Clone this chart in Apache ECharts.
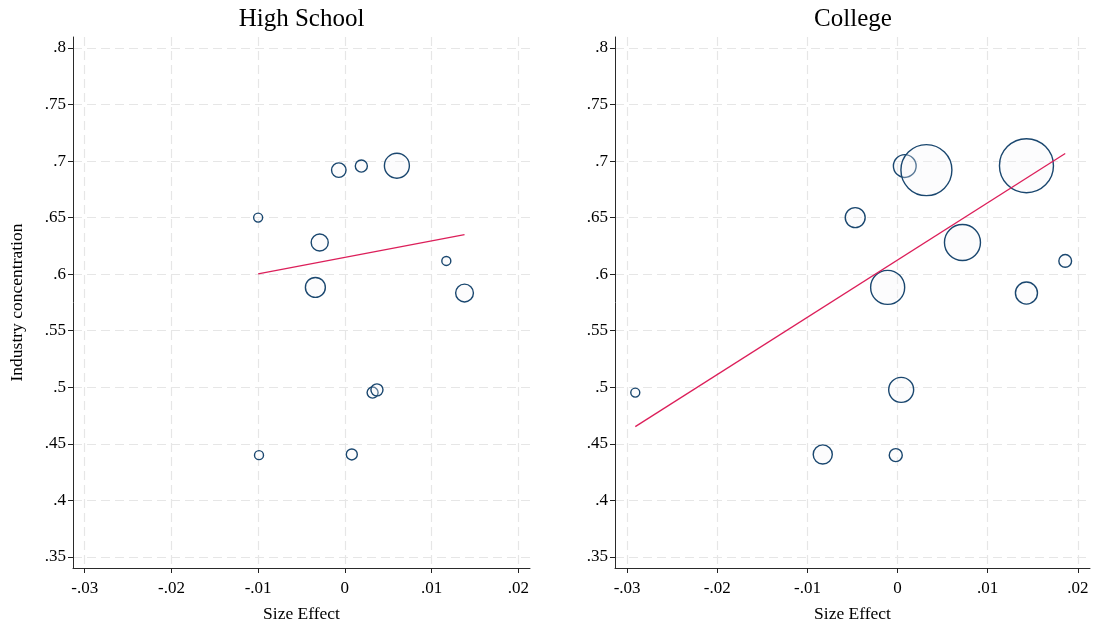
<!DOCTYPE html>
<html>
<head>
<meta charset="utf-8">
<title>Size effect and industry concentration</title>
<script src="https://cdn.jsdelivr.net/npm/echarts@6/dist/echarts.min.js"></script>
<style>
html, body { margin: 0; padding: 0; background: #fff; }
#chart { width: 1095px; height: 628px; }
</style>
</head>
<body>
<div id="chart"></div>
<script type="text/javascript">
// High School panel
var hsX = [-0.0100, -0.0007, 0.0019, 0.0060, -0.0029, -0.0034, 0.0117, 0.0138, 0.0032, 0.0037, -0.0099, 0.0008];
var hsY = [0.650, 0.692, 0.6956, 0.6959, 0.628, 0.5883, 0.6117, 0.5833, 0.4953, 0.4977, 0.440, 0.4406];
var hsW = [1.0, 2.6, 1.8, 7.7, 3.6, 4.9, 1.0, 3.9, 1.5, 1.8, 1.0, 1.5];
var hsFitX = [-0.0100, 0.0138];
var hsFitY = [0.6003, 0.6350];

// College panel
var colX = [-0.0047, 0.0008, 0.0032, 0.0143, 0.0072, -0.0011, 0.0186, 0.0143, -0.0291, 0.0004, -0.0083, -0.0002];
var colY = [0.650, 0.6956, 0.692, 0.6959, 0.628, 0.5883, 0.6117, 0.5833, 0.4953, 0.4977, 0.4406, 0.440];
var colW = [4.9, 6.4, 32.1, 36.0, 16.0, 14.3, 2.0, 6.0, 1.0, 7.7, 4.5, 2.1];
var colFitX = [-0.0291, 0.0186];
var colFitY = [0.4652, 0.7067];

// ticks
var xTicks = [-0.03, -0.02, -0.01, 0, 0.01, 0.02];
var yTicks = [0.35, 0.4, 0.45, 0.5, 0.55, 0.6, 0.65, 0.7, 0.75, 0.8];

var serif = 'Liberation Serif';
var navy = '#1a476f';

function fmt(v) {
	if (Math.abs(v) < 1e-9) return '0';
	return String(+v.toFixed(3)).replace('0.', '.');
}

function pts(xs, ys, ws) {
	return xs.map(function (x, i) { return ws ? [x, ys[i], ws[i]] : [x, ys[i]]; });
}

function xAxisOpt(idx) {
	return {
		type: 'value', gridIndex: idx,
		min: -0.03135, max: 0.02135,
		name: 'Size Effect', nameLocation: 'middle', nameGap: 37,
		nameTextStyle: { fontFamily: serif, fontSize: 17.5, color: '#000' },
		axisLine: { onZero: false, lineStyle: { color: '#2a2a2a', width: 1 } },
		axisTick: { show: true, length: 5, customValues: xTicks, lineStyle: { color: '#222' } },
		axisLabel: { customValues: xTicks, formatter: fmt, margin: 12, fontFamily: serif, fontSize: 17, color: '#000' },
		splitLine: { show: true, lineStyle: { color: '#e6e6e6', width: 1.2, type: [9, 5] } }
	};
}

function yAxisOpt(idx, name) {
	return {
		type: 'value', gridIndex: idx,
		min: 0.3402, max: 0.8097,
		name: name, nameLocation: 'middle', nameGap: 47,
		nameTextStyle: { fontFamily: serif, fontSize: 17.5, color: '#000' },
		axisLine: { show: true, onZero: false, lineStyle: { color: '#2a2a2a', width: 1 } },
		axisTick: { show: true, length: 5, customValues: yTicks, lineStyle: { color: '#222' } },
		axisLabel: { customValues: yTicks, formatter: fmt, margin: 7, fontFamily: serif, fontSize: 17, color: '#000' },
		splitLine: { show: true, lineStyle: { color: '#e6e6e6', width: 1.2, type: [9, 5] } }
	};
}

function bubbles(idx, data) {
	return {
		type: 'scatter', xAxisIndex: idx, yAxisIndex: idx,
		data: data,
		symbol: 'circle',
		symbolSize: function (v) { return 9 * Math.sqrt(v[2]); },
		itemStyle: { color: 'rgba(245,246,248,0.3)', borderColor: navy, borderWidth: 1.4, opacity: 1 },
		z: 2
	};
}

function fitLine(idx, data) {
	return {
		type: 'line', xAxisIndex: idx, yAxisIndex: idx,
		data: data,
		showSymbol: false, symbol: 'none',
		lineStyle: { color: '#dc1f5a', width: 1.3 },
		z: 3
	};
}

var chart = echarts.init(document.getElementById('chart'), null, { renderer: 'canvas' });
var option = {
	animation: false,
	backgroundColor: '#fff',
	textStyle: { fontFamily: serif },
	grid: [
		{ left: 73, right: 565, top: 37, bottom: 57 },
		{ left: 615, right: 5, top: 37, bottom: 57 }
	],
	xAxis: [xAxisOpt(0), xAxisOpt(1)],
	yAxis: [yAxisOpt(0, 'Industry concentration'), yAxisOpt(1, '')],
	graphic: [
		{ type: 'text', x: 301.5, y: 19, style: { text: 'High School', font: '25px "Liberation Serif"', fill: '#000', textAlign: 'center', textVerticalAlign: 'middle' } },
		{ type: 'text', x: 853, y: 19, style: { text: 'College', font: '25px "Liberation Serif"', fill: '#000', textAlign: 'center', textVerticalAlign: 'middle' } }
	],
	series: [
		bubbles(0, pts(hsX, hsY, hsW)),
		fitLine(0, pts(hsFitX, hsFitY)),
		bubbles(1, pts(colX, colY, colW)),
		fitLine(1, pts(colFitX, colFitY))
	]
};
chart.setOption(option);
</script>
</body>
</html>
